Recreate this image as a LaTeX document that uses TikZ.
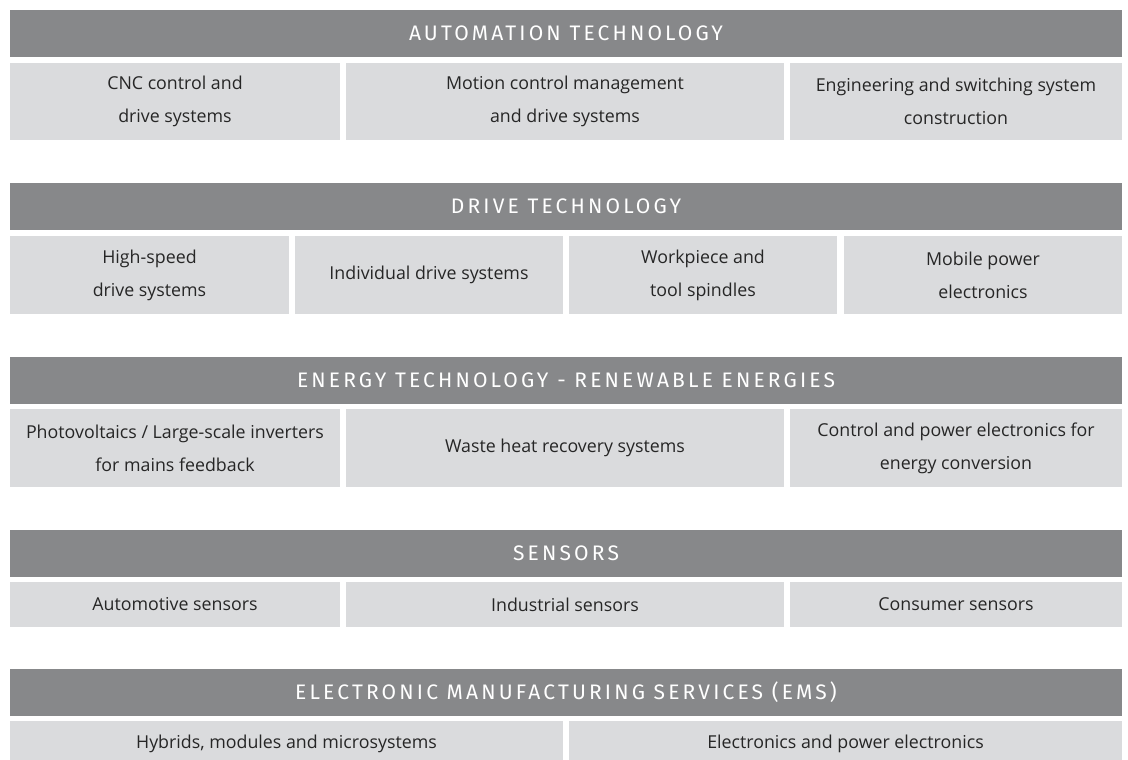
\documentclass[tikz,border=0pt]{standalone}
\usepackage{fontspec}
\setmainfont{Open Sans}
\newfontfamily\headfont[LetterSpace=15]{Fira Sans}
\definecolor{headgray}{HTML}{87888A}
\definecolor{cellgray}{HTML}{DADBDD}
\tikzset{
    head/.style={fill=headgray, text=white, inner sep=0pt, outer sep=0pt,
        minimum width=1112pt, minimum height=47pt,
        font=\headfont\fontsize{21}{21}\selectfont},
    cell/.style={fill=cellgray, text=black!85, inner sep=0pt, outer sep=0pt,
        align=center, font=\fontsize{17.8}{33}\selectfont},
}

\begin{document}
\begin{tikzpicture}[x=1pt,y=-1pt]
    \useasboundingbox (0,0) rectangle (1128,760);
    % automation
    \node[head] (auto) at (566,33.5) {AUTOMATION TECHNOLOGY};
    \node[cell, minimum width=330pt, minimum height=77pt] (cnc) at (175,101.5) {CNC control and\\drive systems};
    \node[cell, minimum width=438pt, minimum height=77pt] (motion) at (565,101.5) {Motion control management\\and drive systems};
    \node[cell, minimum width=332pt, minimum height=77pt] (switching) at (956,101.5) {Engineering and switching system\\construction};
    % drives
    \node[head] (drive) at (566,206.5) {DRIVE TECHNOLOGY};
    \node[cell, minimum width=279pt, minimum height=78pt] (highspeed) at (149.5,275) {High-speed\\drive systems};
    \node[cell, minimum width=268pt, minimum height=78pt] (individual) at (429,275) {Individual drive systems};
    \node[cell, minimum width=268pt, minimum height=78pt] (spindles) at (703,275) {Workpiece and\\tool spindles};
    \node[cell, minimum width=278pt, minimum height=78pt] (mobile) at (983,275) {Mobile power\\electronics};
    % energy
    \node[head] (energy) at (566,380.5) {ENERGY TECHNOLOGY - RENEWABLE ENERGIES};
    \node[cell, minimum width=330pt, minimum height=78pt] (pv) at (175,448) {Photovoltaics / Large-scale inverters\\for mains feedback};
    \node[cell, minimum width=438pt, minimum height=78pt] (wasteheat) at (565,448) {Waste heat recovery systems};
    \node[cell, minimum width=332pt, minimum height=78pt] (conversion) at (956,448) {Control and power electronics for\\energy conversion};
    % sensors
    \node[head] (sensors) at (566,553.5) {SENSORS};
    \node[cell, minimum width=330pt, minimum height=45pt] (automotive) at (175,604.5) {Automotive sensors};
    \node[cell, minimum width=438pt, minimum height=45pt] (industrial) at (565,604.5) {Industrial sensors};
    \node[cell, minimum width=332pt, minimum height=45pt] (consumer) at (956,604.5) {Consumer sensors};
    % ems
    \node[head] (ems) at (566,692.5) {ELECTRONIC MANUFACTURING SERVICES (EMS)};
    \node[cell, minimum width=553pt, minimum height=45pt] (hybrids) at (286.5,743.5) {Hybrids, modules and microsystems};
    \node[cell, minimum width=553pt, minimum height=45pt] (powerel) at (845.5,743.5) {Electronics and power electronics};
\end{tikzpicture}
\end{document}
